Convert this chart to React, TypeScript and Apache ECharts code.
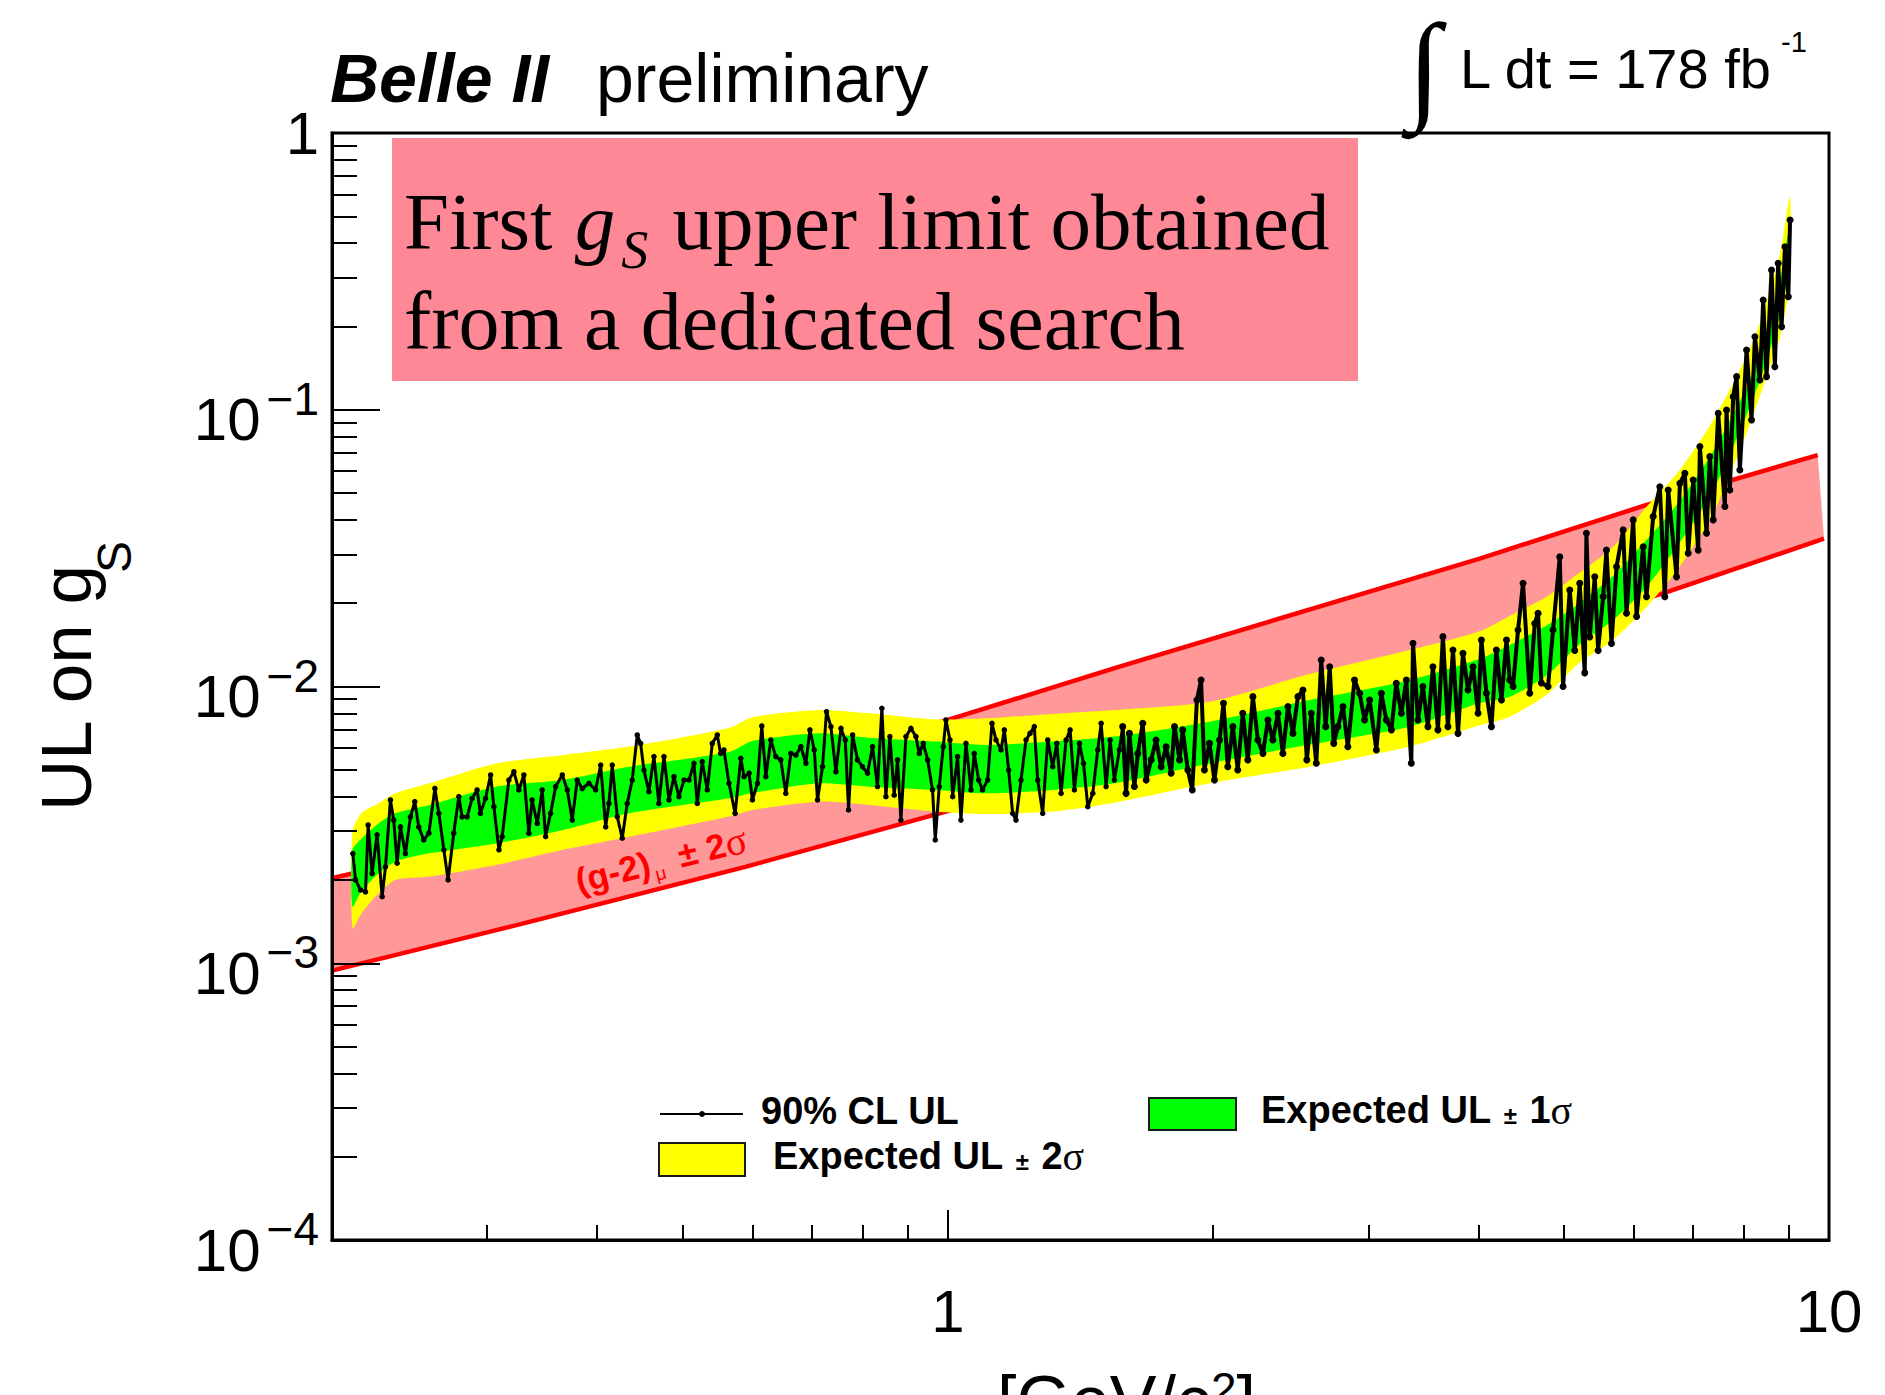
import React, { useEffect, useRef } from "react";
import * as echarts from "echarts";

// ---------------- data ----------------
const obsMass: number[] = [
  0.2112, 0.2127, 0.2155, 0.2183, 0.2198, 0.2221, 0.225, 0.228, 0.23, 0.233,
  0.235, 0.2371, 0.2392, 0.2423, 0.2455, 0.2483, 0.2509, 0.2542, 0.2576, 0.2617,
  0.2644, 0.2679, 0.2709, 0.2749, 0.2786, 0.281, 0.2847, 0.2884, 0.2922, 0.2948,
  0.2987, 0.3027, 0.3053, 0.3094, 0.312, 0.3175, 0.3217, 0.3259, 0.3302, 0.3345,
  0.3374, 0.342, 0.3464, 0.3495, 0.3541, 0.3588, 0.3651, 0.3699, 0.3747, 0.3796,
  0.3846, 0.3914, 0.3983, 0.4036, 0.4089, 0.4124, 0.416, 0.4215, 0.427, 0.4326,
  0.4383, 0.4441, 0.448, 0.4519, 0.4578, 0.4639, 0.4699, 0.4762, 0.4825, 0.4888,
  0.4952, 0.5018, 0.5084, 0.515, 0.5195, 0.5263, 0.5333, 0.5403, 0.5474, 0.5522,
  0.557, 0.5644, 0.5735, 0.5821, 0.5871, 0.5948, 0.6, 0.608, 0.6149, 0.6214,
  0.6296, 0.6378, 0.6462, 0.6547, 0.6634, 0.6722, 0.681, 0.69, 0.6973, 0.7053,
  0.7113, 0.7207, 0.7282, 0.7366, 0.7463, 0.7562, 0.7648, 0.7714, 0.7796, 0.7897,
  0.8, 0.8106, 0.8213, 0.832, 0.8416, 0.8505, 0.8594, 0.8691, 0.8767, 0.8845,
  0.8962, 0.908, 0.9199, 0.928, 0.9377, 0.9484, 0.9607, 0.9676, 0.9777, 0.988,
  0.9949, 1.0055, 1.0125, 1.0257, 1.0347, 1.0484, 1.0622, 1.0715, 1.0837, 1.0949,
  1.1094, 1.1222, 1.134, 1.1489, 1.159, 1.1721, 1.1844, 1.1948, 1.2106, 1.2266,
  1.2394, 1.2534, 1.2645, 1.2811, 1.2981, 1.3152, 1.3292, 1.3443, 1.362, 1.3764,
  1.3919, 1.4103, 1.4253, 1.4414, 1.4603, 1.4794, 1.4926, 1.5121, 1.528, 1.5453, 1.5655,
  1.579, 1.593, 1.607, 1.628, 1.643, 1.664, 1.679, 1.701, 1.723, 1.746,
  1.769, 1.792, 1.808, 1.832, 1.847, 1.872, 1.894, 1.917, 1.938, 1.955,
  1.981, 2.007, 2.034, 2.055, 2.078, 2.106, 2.133, 2.161, 2.19, 2.219,
  2.248, 2.278, 2.308, 2.338, 2.369, 2.4, 2.432, 2.464, 2.496, 2.529,
  2.555, 2.585, 2.619, 2.653, 2.684, 2.712, 2.741, 2.771, 2.808, 2.844,
  2.894, 2.933, 2.971, 3.011, 3.064, 3.104, 3.145, 3.187, 3.228, 3.271,
  3.314, 3.357, 3.372, 3.416, 3.46, 3.506, 3.552, 3.599, 3.646, 3.694,
  3.743, 3.793, 3.842, 3.893, 3.945, 3.997, 4.032, 4.085, 4.139, 4.193,
  4.249, 4.305, 4.342,
  4.379, 4.437, 4.495, 4.575, 4.635, 4.675, 4.716, 4.799, 4.862, 4.948,
  4.991, 5.079, 5.146, 5.213, 5.282, 5.305, 5.351, 5.422, 5.47, 5.542,
  5.59, 5.664, 5.74, 5.84, 5.891, 5.995, 6.048, 6.153, 6.207, 6.316,
  6.427, 6.511, 6.569, 6.714, 6.773, 6.862, 6.921, 7.013, 7.105, 7.136,
  7.262, 7.324, 7.389, 7.486, 7.618, 7.651, 7.718, 7.785, 7.855, 7.922,
  8.062, 8.168, 8.24, 8.348, 8.42, 8.494, 8.606, 8.681, 8.756, 8.835,
  8.913, 8.992, 9.033,
];
const obsUL: number[] = [
  2.49e-3, 2.0e-3, 1.84e-3, 1.81e-3, 3.16e-3, 2.11e-3, 2.91e-3, 1.74e-3, 2.23e-3, 3.89e-3,
  3.29e-3, 2.3e-3, 3.11e-3, 2.49e-3, 3.38e-3, 3.84e-3, 3.11e-3, 2.79e-3, 2.95e-3, 4.28e-3,
  3.48e-3, 2.57e-3, 2.0e-3, 2.95e-3, 4.0e-3, 3.38e-3, 3.38e-3, 3.94e-3, 4.23e-3, 3.48e-3,
  3.94e-3, 4.79e-3, 3.68e-3, 2.57e-3, 2.87e-3, 4.59e-3, 4.92e-3, 4.23e-3, 4.79e-3, 2.95e-3,
  3.89e-3, 3.2e-3, 4.23e-3, 2.87e-3, 3.48e-3, 4.35e-3, 4.79e-3, 4.23e-3, 3.29e-3, 4.59e-3,
  4.28e-3, 4.47e-3, 4.23e-3, 5.2e-3, 3.11e-3, 3.78e-3, 5.2e-3, 3.38e-3, 2.83e-3, 3.78e-3,
  4.59e-3, 6.68e-3, 6.23e-3, 4.99e-3, 4.17e-3, 5.58e-3, 3.78e-3, 5.58e-3, 3.89e-3, 4.72e-3,
  4.0e-3, 4.59e-3, 4.59e-3, 5.28e-3, 3.78e-3, 5.35e-3, 4.23e-3, 6.23e-3, 6.68e-3, 5.73e-3,
  5.9e-3, 4.47e-3, 3.48e-3, 5.5e-3, 4.72e-3, 4.86e-3, 3.89e-3, 4.47e-3, 7.2e-3, 4.72e-3,
  6.41e-3, 5.58e-3, 5.43e-3, 4.11e-3, 5.73e-3, 5.65e-3, 6.06e-3, 5.28e-3, 6.97e-3, 5.9e-3,
  3.89e-3, 5.13e-3, 8.11e-3, 7.16e-3, 4.92e-3, 7.06e-3, 6.41e-3, 3.58e-3, 6.68e-3, 5.43e-3,
  5.13e-3, 4.86e-3, 6.06e-3, 4.35e-3, 8.34e-3, 4.0e-3, 6.59e-3, 4.05e-3, 5.43e-3, 3.29e-3,
  6.59e-3, 7.06e-3, 6.59e-3, 5.73e-3, 6.23e-3, 5.43e-3, 4.23e-3, 2.79e-3, 4.35e-3, 6.06e-3,
  7.57e-3, 6.41e-3, 4.0e-3, 5.58e-3, 3.29e-3, 6.23e-3, 4.23e-3, 5.73e-3, 4.59e-3, 4.23e-3,
  4.59e-3, 7.36e-3, 6.41e-3, 5.9e-3, 6.97e-3, 4.99e-3, 3.48e-3, 3.29e-3, 4.59e-3, 6.41e-3,
  6.77e-3, 7.16e-3, 4.59e-3, 3.48e-3, 6.41e-3, 5.13e-3, 6.23e-3, 4.11e-3, 6.41e-3, 6.97e-3,
  4.23e-3, 6.23e-3, 5.28e-3, 3.68e-3, 4.11e-3, 5.9e-3, 7.36e-3, 4.35e-3, 6.41e-3, 4.59e-3, 5.9e-3,
  7.16e-3, 4.11e-3, 6.77e-3, 4.35e-3, 5.73e-3, 7.36e-3, 4.59e-3, 5.43e-3, 6.41e-3, 5.13e-3,
  6.06e-3, 4.86e-3, 7.16e-3, 5.43e-3, 6.97e-3, 4.99e-3, 4.23e-3, 8.94e-3, 1.056e-2, 4.99e-3,
  6.23e-3, 4.59e-3, 6.41e-3, 8.7e-3, 5.13e-3, 7.16e-3, 4.99e-3, 8.0e-3, 5.43e-3, 9.19e-3,
  6.41e-3, 5.73e-3, 7.57e-3, 6.41e-3, 8.0e-3, 5.73e-3, 8.46e-3, 6.77e-3, 9.19e-3, 9.71e-3,
  5.43e-3, 8.0e-3, 5.28e-3, 1.247e-2, 7.16e-3, 1.179e-2, 6.23e-3, 7.16e-3, 8.46e-3, 6.06e-3,
  1.056e-2, 9.45e-3, 7.57e-3, 8.94e-3, 5.9e-3, 9.45e-3, 7.57e-3, 6.97e-3, 1.027e-2, 8.0e-3,
  1.056e-2, 5.28e-3, 1.432e-2, 7.57e-3, 9.99e-3, 7.16e-3, 1.179e-2, 6.97e-3, 1.514e-2, 7.16e-3,
  1.354e-2, 6.77e-3, 1.318e-2, 9.71e-3, 1.179e-2, 8.0e-3, 1.472e-2, 9.45e-3, 7.16e-3, 1.354e-2,
  8.94e-3, 1.472e-2, 1.056e-2,
  1.0e-2, 1.6e-2, 2.36e-2, 9.45e-3, 1.69e-2, 1.84e-2, 1.03e-2, 1.0e-2, 1.6e-2, 2.94e-2,
  1.0e-2, 2.23e-2, 1.35e-2, 2.36e-2, 1.12e-2, 3.58e-2, 1.51e-2, 2.49e-2, 1.35e-2, 2.11e-2,
  3.11e-2, 1.43e-2, 2.71e-2, 3.68e-2, 1.84e-2, 4.0e-2, 1.79e-2, 3.2e-2, 2.11e-2, 4.11e-2,
  5.27e-2, 2.11e-2, 5.13e-2, 2.49e-2, 5.42e-2, 5.89e-2, 3.03e-2, 5.57e-2, 3.11e-2, 7.36e-2,
  3.58e-2, 6.77e-2, 4.0e-2, 9.71e-2, 4.47e-2, 9.98e-2, 5.13e-2, 0.1115, 0.1317, 6.06e-2,
  0.1644, 9.18e-2, 0.1836, 0.1281, 0.249, 0.1317, 0.32, 0.1431, 0.338, 0.1996,
  0.388, 0.256, 0.485,
];

const bandMass: number[] = [
  0.211, 0.216, 0.226, 0.236, 0.258, 0.307, 0.365, 0.435, 0.565, 0.6,
  0.714, 0.814, 0.969, 1.105, 1.315, 1.545, 1.981, 2.573, 3.342, 4.015,
  4.342, 4.78, 5.2, 5.69, 6.21, 6.77, 7.39, 8.06, 8.42, 8.8, 9.03,
];
const exp2Up: number[] = [
  2.985e-3, 3.483e-3, 3.784e-3, 4.111e-3, 4.467e-3, 5.272e-3, 5.649e-3, 6.067e-3, 7.1e-3, 7.75e-3,
  8.222e-3, 7.998e-3, 7.603e-3, 7.674e-3, 7.962e-3, 8.222e-3, 8.81e-3, 1.109e-2, 1.355e-2, 1.585e-2,
  1.799e-2, 2.109e-2, 2.564e-2, 3.199e-2, 4.467e-2, 6.053e-2, 9.183e-2, 0.1556, 0.2228, 0.3673, 0.5888,
];
const exp1Up: number[] = [
  2.564e-3, 2.818e-3, 3.206e-3, 3.483e-3, 3.733e-3, 4.345e-3, 4.592e-3, 5.129e-3, 5.8e-3, 6.35e-3,
  6.776e-3, 6.531e-3, 6.324e-3, 6.152e-3, 6.324e-3, 6.592e-3, 7.464e-3, 8.933e-3, 1.054e-2, 1.259e-2,
  1.413e-2, 1.66e-2, 1.995e-2, 2.512e-2, 3.388e-2, 4.677e-2, 7.079e-2, 0.1202, 0.1738, 0.2951, 0.4677,
];
const exp1Dn: number[] = [
  1.6e-3, 1.82e-3, 2.113e-3, 2.328e-3, 2.495e-3, 2.71e-3, 3.027e-3, 3.483e-3, 3.945e-3, 4.121e-3,
  4.467e-3, 4.345e-3, 4.227e-3, 4.111e-3, 4.227e-3, 4.467e-3, 5.272e-3, 6.166e-3, 7.161e-3, 8.71e-3,
  9.183e-3, 1.096e-2, 1.413e-2, 1.738e-2, 2.291e-2, 3.311e-2, 5.129e-2, 9.55e-2, 0.138, 0.2188, 0.3388,
];
const exp2Dn: number[] = [
  1.337e-3, 1.514e-3, 1.791e-3, 2.0e-3, 2.056e-3, 2.265e-3, 2.564e-3, 2.864e-3, 3.388e-3, 3.581e-3,
  3.837e-3, 3.733e-3, 3.532e-3, 3.459e-3, 3.532e-3, 3.802e-3, 4.467e-3, 5.129e-3, 6.067e-3, 7.244e-3,
  7.78e-3, 9.333e-3, 1.213e-2, 1.472e-2, 1.941e-2, 2.71e-2, 4.227e-2, 8.222e-2, 0.1211, 0.1837, 0.2944,
];

const g2UpMass: number[] = [0.2, 0.212, 1.0, 1.566, 4.015, 6.21, 9.71];
const g2Up: number[] = [2.03e-3, 2.12e-3, 7.57e-3, 1.18e-2, 2.9e-2, 4.53e-2, 6.86e-2];
const g2DnMass: number[] = [0.2, 0.329, 0.589, 0.995, 6.48, 9.87];
const g2Dn: number[] = [9.4e-4, 1.39e-3, 2.23e-3, 3.53e-3, 2.17e-2, 3.42e-2];

const xMajorTicks: number[] = [1, 10];
const xMinorTicks: number[] = [0.3, 0.4, 0.5, 0.6, 0.7, 0.8, 0.9, 2, 3, 4, 5, 6, 7, 8, 9];
const xTickLabels: number[] = [1, 10];
const yMajorTicks: number[] = [1e-4, 1e-3, 1e-2, 1e-1, 1];
const yMinorTicks: number[] = [
  2e-4, 3e-4, 4e-4, 5e-4, 6e-4, 7e-4, 8e-4, 9e-4,
  2e-3, 3e-3, 4e-3, 5e-3, 6e-3, 7e-3, 8e-3, 9e-3,
  2e-2, 3e-2, 4e-2, 5e-2, 6e-2, 7e-2, 8e-2, 9e-2,
  0.2, 0.3, 0.4, 0.5, 0.6, 0.7, 0.8, 0.9,
];

// ---------------- helpers ----------------
const SANS = "'Liberation Sans', Arial, Helvetica, sans-serif";
const SERIF = "'Liberation Serif', 'Times New Roman', serif";

const zip = (a: number[], b: number[]) => a.map((v, i) => [v, b[i]]);

function bandSeries(
  name: string,
  xsUp: number[],
  up: number[],
  xsDn: number[],
  dn: number[],
  color: string,
  z: number,
  smooth: number
) {
  return {
    type: "custom",
    name,
    z,
    silent: true,
    coordinateSystem: "cartesian2d",
    xAxisIndex: 0,
    yAxisIndex: 0,
    data: [[1, 0.01]],
    renderItem: (_params: any, api: any) => {
      const pts: number[][] = [];
      for (let i = 0; i < xsUp.length; i++) pts.push(api.coord([xsUp[i], up[i]]));
      for (let i = xsDn.length - 1; i >= 0; i--) pts.push(api.coord([xsDn[i], dn[i]]));
      return {
        type: "polygon",
        shape: { points: pts, smooth },
        style: { fill: color, stroke: null },
      };
    },
  };
}

export default function App() {
  const ref = useRef<HTMLDivElement>(null);

  useEffect(() => {
    const el = ref.current!;
    const chart = echarts.init(el, null, { renderer: "svg" });

    const axisCommon = {
      type: "log",
      logBase: 10,
      splitLine: { show: false },
      minorTick: { show: false },
      minorSplitLine: { show: false },
      z: 10,
    };

    const legendRich = {
      pm: { fontSize: 24, fontWeight: "bold", fontFamily: SANS, fill: "#000", padding: [10, 2, 0, 2] },
      sg: { fontSize: 40, fontFamily: SERIF, fill: "#000" },
    };

    const obsPairs = zip(obsMass, obsUL);
    const split = obsMass.findIndex((m) => m >= 1.579);

    const option: any = {
      animation: false,
      backgroundColor: "#ffffff",
      grid: {
        left: 332,
        right: 56,
        top: 133,
        bottom: 155,
        show: true,
        borderColor: "#000",
        borderWidth: 3,
        backgroundColor: "transparent",
        containLabel: false,
      },
      xAxis: [
        {
          ...axisCommon,
          min: 0.2,
          max: 10,
          position: "bottom",
          axisLine: { show: true, onZero: false, lineStyle: { color: "#000", width: 3 } },
          axisTick: {
            show: true,
            inside: true,
            length: 30,
            lineStyle: { color: "#000", width: 2 },
            customValues: xMajorTicks,
          },
          axisLabel: {
            show: true,
            customValues: xTickLabels,
            margin: 41,
            fontSize: 60,
            fontFamily: SANS,
            color: "#000",
            formatter: (v: number) => String(Math.round(v)),
          },
        },
        {
          ...axisCommon,
          min: 0.2,
          max: 10,
          position: "bottom",
          axisLine: { show: false },
          axisTick: {
            show: true,
            inside: true,
            length: 15,
            lineStyle: { color: "#000", width: 2 },
            customValues: xMinorTicks,
          },
          axisLabel: { show: false },
        },
      ],
      yAxis: [
        {
          ...axisCommon,
          min: 1e-4,
          max: 1,
          position: "left",
          axisLine: { show: true, onZero: false, lineStyle: { color: "#000", width: 3 } },
          axisTick: {
            show: true,
            inside: true,
            length: 48,
            lineStyle: { color: "#000", width: 2 },
            customValues: yMajorTicks,
          },
          axisLabel: {
            show: true,
            customValues: yMajorTicks,
            margin: 13,
            color: "#000",
            fontFamily: SANS,
            fontSize: 60,
            formatter: (v: number) => {
              const n = Math.round(Math.log10(v));
              if (n === 0) return "{one|1}";
              return "{b|10}{sup|\u2212" + String(-n) + "}";
            },
            rich: {
              one: { fontSize: 60, fontFamily: SANS, color: "#000" },
              b: { fontSize: 60, fontFamily: SANS, color: "#000", padding: [20, 0, 0, 0] },
              sup: { fontSize: 46, fontFamily: SANS, color: "#000", padding: [0, 0, 22, 6] },
            },
          },
        },
        {
          ...axisCommon,
          min: 1e-4,
          max: 1,
          position: "left",
          axisLine: { show: false },
          axisTick: {
            show: true,
            inside: true,
            length: 25,
            lineStyle: { color: "#000", width: 2 },
            customValues: yMinorTicks,
          },
          axisLabel: { show: false },
        },
      ],
      series: [
        bandSeries("(g-2) band", g2UpMass, g2Up, g2DnMass, g2Dn, "#ff9999", 1, 0),
        {
          type: "line",
          name: "(g-2) upper",
          data: zip(g2UpMass, g2Up),
          showSymbol: false,
          symbol: "none",
          lineStyle: { color: "#ff0000", width: 4.5 },
          z: 2,
          silent: true,
        },
        {
          type: "line",
          name: "(g-2) lower",
          data: zip(g2DnMass, g2Dn),
          showSymbol: false,
          symbol: "none",
          lineStyle: { color: "#ff0000", width: 4.5 },
          z: 2,
          silent: true,
        },
        bandSeries("Expected UL ± 2σ", bandMass, exp2Up, bandMass, exp2Dn, "#ffff00", 3, 0.25),
        bandSeries("Expected UL ± 1σ", bandMass, exp1Up, bandMass, exp1Dn, "#00ff00", 4, 0.25),
        {
          type: "line",
          name: "90% CL UL",
          data: obsPairs.slice(0, split + 1),
          symbol: "circle",
          symbolSize: 5.5,
          showSymbol: true,
          showAllSymbol: true,
          lineStyle: { color: "#000", width: 3 },
          itemStyle: { color: "#000" },
          z: 5,
          silent: true,
        },
        {
          type: "line",
          name: "90% CL UL (high mass)",
          data: obsPairs.slice(split),
          symbol: "circle",
          symbolSize: 7,
          showSymbol: true,
          showAllSymbol: true,
          lineStyle: { color: "#000", width: 4 },
          itemStyle: { color: "#000" },
          z: 5,
          silent: true,
        },
      ],
      graphic: {
        elements: [
          // header
          {
            type: "text", x: 330, y: 78, z: 100,
            style: { text: "Belle II", fontSize: 68, fontWeight: "bold", fontStyle: "italic", fontFamily: SANS, fill: "#000", align: "left", verticalAlign: "middle" },
          },
          {
            type: "text", x: 596, y: 78, z: 100,
            style: { text: "preliminary", fontSize: 68, fontFamily: SANS, fill: "#000", align: "left", verticalAlign: "middle" },
          },
          {
            type: "text", x: 1424, y: 66, z: 100,
            style: { text: "\u222B", fontSize: 120, fontWeight: "bold", fontFamily: SERIF, fill: "#000", align: "center", verticalAlign: "middle" },
          },
          {
            type: "text", x: 1460, y: 68, z: 100,
            style: { text: "L dt = 178 fb", fontSize: 56, fontFamily: SANS, fill: "#000", align: "left", verticalAlign: "middle" },
          },
          {
            type: "text", x: 1781, y: 42, z: 100,
            style: { text: "-1", fontSize: 29, fontFamily: SANS, fill: "#000", align: "left", verticalAlign: "middle" },
          },
          // annotation box
          { type: "rect", z: 50, shape: { x: 392, y: 138, width: 966, height: 243 }, style: { fill: "#ff8896" } },
          {
            type: "text", x: 404, y: 222, z: 51,
            style: {
              text: "First {g|g}{s|S} upper limit obtained",
              fontSize: 81, fontFamily: SERIF, fill: "#000", align: "left", verticalAlign: "middle",
              rich: {
                g: { fontSize: 81, fontFamily: SERIF, fontStyle: "italic", fill: "#000", padding: [0, 0, 0, 2] },
                s: { fontSize: 54, fontFamily: SERIF, fontStyle: "italic", fill: "#000", padding: [56, 4, 0, 6] },
              },
            },
          },
          {
            type: "text", x: 404, y: 321, z: 51,
            style: { text: "from a dedicated search", fontSize: 82, fontFamily: SERIF, fill: "#000", align: "left", verticalAlign: "middle" },
          },
          // y title
          {
            type: "text", x: 66, y: 688, rotation: Math.PI / 2, z: 100,
            style: { text: "UL on g", fontSize: 71, fontFamily: SANS, fill: "#000", align: "center", verticalAlign: "middle" },
          },
          {
            type: "text", x: 114, y: 557, rotation: Math.PI / 2, z: 100,
            style: { text: "S", fontSize: 48, fontFamily: SANS, fill: "#000", align: "center", verticalAlign: "middle" },
          },
          // x title (cut at the bottom of the page, as in the reference)
          {
            type: "text", x: 997, y: 1401, z: 100,
            style: {
              text: "[GeV/c{sup|2}]", fontSize: 70, fontFamily: SANS, fill: "#000", align: "left", verticalAlign: "middle",
              rich: { sup: { fontSize: 46, fontFamily: SANS, fill: "#000", padding: [0, 0, 25, 0] } },
            },
          },
          // (g-2) label
          {
            type: "text", x: 661, y: 860, rotation: (14 * Math.PI) / 180, z: 100,
            style: {
              text: "(g-2){mu|\u03BC} \u00B1 2{sg|\u03C3}",
              fontSize: 35, fontWeight: "bold", fontFamily: SANS, fill: "#ff0000", align: "center", verticalAlign: "middle",
              rich: {
                mu: { fontSize: 19, fontFamily: SANS, fill: "#ff0000", padding: [26, 6, 0, 3] },
                sg: { fontSize: 40, fontFamily: SERIF, fill: "#ff0000" },
              },
            },
          },
          // legend
          { type: "line", z: 100, shape: { x1: 660, y1: 1114, x2: 743, y2: 1114 }, style: { stroke: "#000", lineWidth: 2 } },
          { type: "circle", z: 100, shape: { cx: 702, cy: 1114, r: 3 }, style: { fill: "#000" } },
          {
            type: "text", x: 761, y: 1111, z: 100,
            style: { text: "90% CL UL", fontSize: 38, fontWeight: "bold", fontFamily: SANS, fill: "#000", align: "left", verticalAlign: "middle" },
          },
          { type: "rect", z: 100, shape: { x: 1149, y: 1098, width: 87, height: 32 }, style: { fill: "#00ff00", stroke: "#1a1a1a", lineWidth: 2 } },
          {
            type: "text", x: 1261, y: 1110, z: 100,
            style: {
              text: "Expected UL {pm|\u00B1} 1{sg|\u03C3}",
              fontSize: 38, fontWeight: "bold", fontFamily: SANS, fill: "#000", align: "left", verticalAlign: "middle",
              rich: legendRich,
            },
          },
          { type: "rect", z: 100, shape: { x: 659, y: 1143, width: 86, height: 33 }, style: { fill: "#ffff00", stroke: "#1a1a1a", lineWidth: 2 } },
          {
            type: "text", x: 773, y: 1156, z: 100,
            style: {
              text: "Expected UL {pm|\u00B1} 2{sg|\u03C3}",
              fontSize: 38, fontWeight: "bold", fontFamily: SANS, fill: "#000", align: "left", verticalAlign: "middle",
              rich: legendRich,
            },
          },
        ],
      },
    };

    chart.setOption(option);
    return () => chart.dispose();
  }, []);

  return (
    <div
      ref={ref}
      style={{ position: "absolute", left: 0, top: 0, width: 1885, height: 1395, background: "#fff" }}
    />
  );
}
